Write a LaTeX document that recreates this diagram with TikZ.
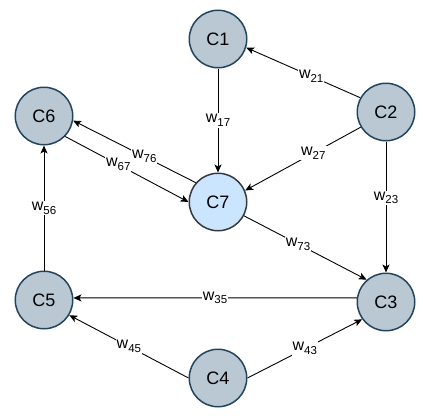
\documentclass[tikz,border=0pt]{standalone}
\usepackage{fontspec}
\setmainfont{Liberation Sans}
\usetikzlibrary{arrows.meta}
\definecolor{cfill}{HTML}{BAC8D3}
\definecolor{cdraw}{HTML}{23445D}
\definecolor{hfill}{HTML}{CCE5FF}
\definecolor{hdraw}{HTML}{36393D}
\newcommand\wsub[1]{w\raisebox{-0.45ex}{\fontsize{11.5}{13}\selectfont #1}}
\tikzset{
  concept/.style={circle, draw=cdraw, fill=cfill, line width=1.5pt, minimum size=57.5pt, inner sep=0pt, font=\fontsize{18}{21}\selectfont},
  hconcept/.style={concept, draw=hdraw, fill=hfill},
  link/.style={draw=black, line width=0.9pt, -{Stealth[length=8pt,width=7pt,inset=2pt]}},
  wlabel/.style={fill=white, inner sep=1pt, font=\fontsize{16}{18}\selectfont}
}
\begin{document}
\begin{tikzpicture}[x=1pt,y=-1pt]
\useasboundingbox (0,0) rectangle (423,415);
\node[concept] (c1) at (218,39) {C1};
\node[concept] (c2) at (386,112) {C2};
\node[concept] (c6) at (44,116) {C6};
\node[hconcept] (c7) at (218,202) {C7};
\node[concept] (c5) at (44,300) {C5};
\node[concept] (c3) at (386,302) {C3};
\node[concept] (c4) at (218,378) {C4};

\draw[link] (c2.151) -- node[wlabel, pos=0.43] {\wsub{21}} (c1.-17);
\draw[link] (c1.south) -- node[wlabel, pos=0.5] {\wsub{17}} (c7.north);
\draw[link] (c2.211) -- node[wlabel, pos=0.41] {\wsub{27}} (c7.23);
\draw[link] (c2.south) -- node[wlabel, pos=0.43] {\wsub{23}} (c3.north);
\draw[link] (c7.-28) -- node[wlabel, pos=0.44] {\wsub{73}} (c3.131);
\draw[link] (c3.172) -- node[wlabel, pos=0.5] {\wsub{35}} (c5.4);
\draw[link] (c4.0) -- node[wlabel, pos=0.5] {\wsub{43}} (c3.216);
\draw[link] (c4.180) -- node[wlabel, pos=0.5] {\wsub{45}} (c5.-31);
\draw[link] (c5.north) -- node[wlabel, pos=0.5] {\wsub{56}} (c6.south);
\draw[link] (c7.139) -- node[wlabel, pos=0.42] {\wsub{76}} (c6.-9);
\draw[link] (c6.-44) -- node[wlabel, pos=0.43] {\wsub{67}} (c7.180);
\end{tikzpicture}
\end{document}
